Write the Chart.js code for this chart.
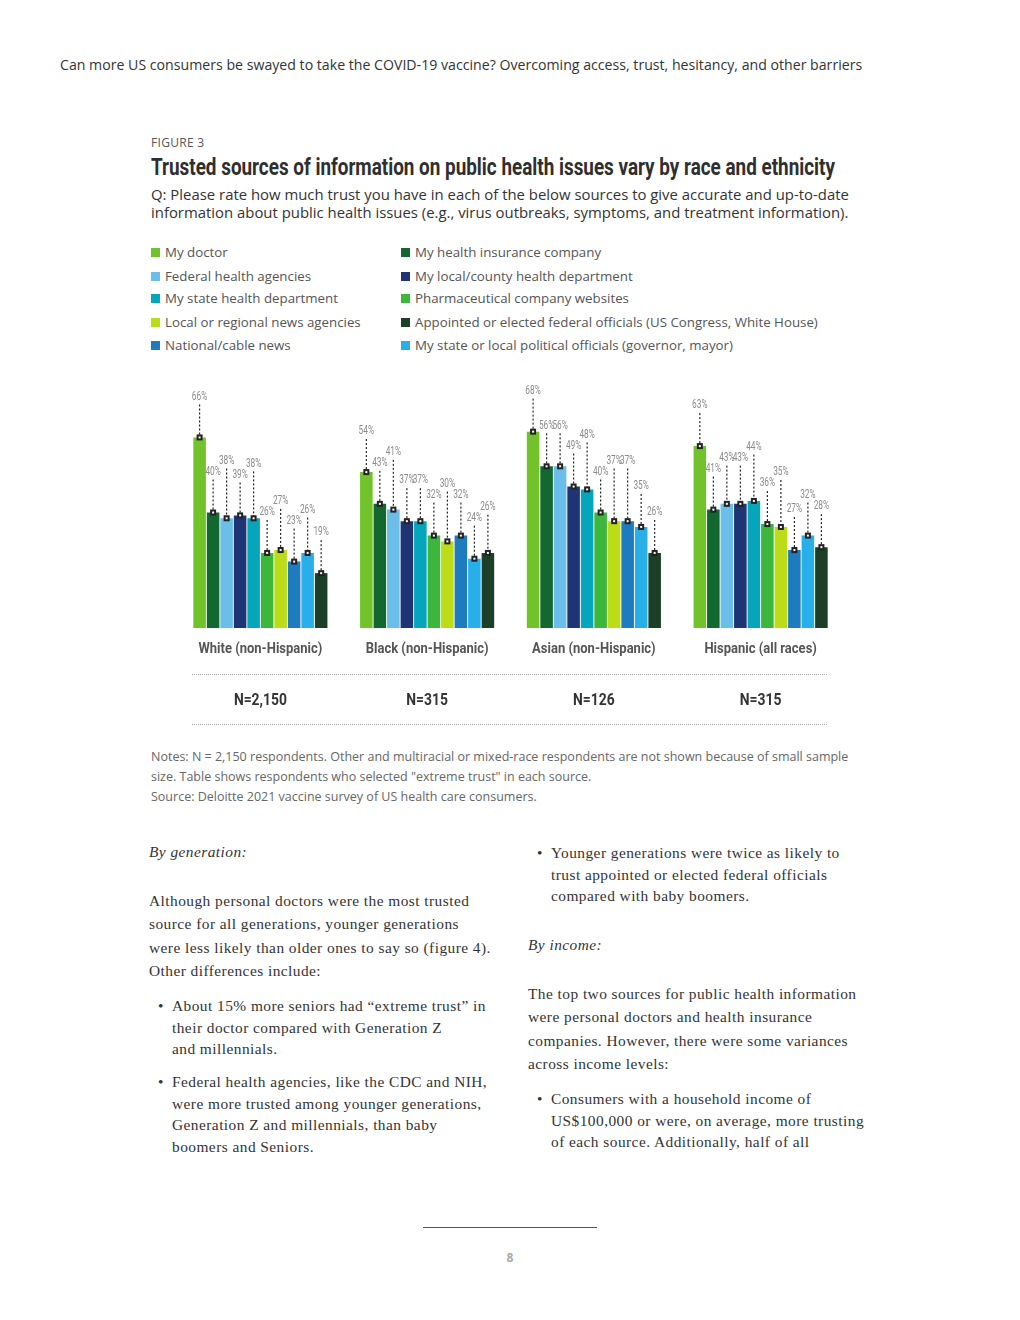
<!DOCTYPE html>
<html>
<head>
<meta charset="utf-8">
<script src="https://cdn.jsdelivr.net/npm/chart.js@4.4.1/dist/chart.umd.min.js"></script>
<style>
  html,body{margin:0;padding:0;background:#fff;}
  body{width:1020px;height:1320px;position:relative;overflow:hidden;font-family:"Open Sans",sans-serif;color:#333;}
  .abs{position:absolute;white-space:nowrap;}
  #hdr{left:60px;top:55px;font-size:14.15px;color:#333;}
  #fig{left:151px;top:134px;font-size:12px;color:#555;letter-spacing:0.3px;}
  #title{left:151px;top:154px;font-family:Roboto,sans-serif;font-weight:bold;font-size:23px;color:#2f2f2f;transform-origin:0 0;}
  #sub{left:151px;top:185px;font-size:14.9px;line-height:18px;color:#333;}
  .lg{position:absolute;font-size:13.3px;color:#555;white-space:nowrap;line-height:16px;}
  .sw{display:inline-block;width:9px;height:9px;margin-right:5px;vertical-align:0px;}
  #notes{left:151px;top:747px;font-size:12.5px;line-height:20px;color:#666;}
  .body{position:absolute;font-family:"Liberation Serif",serif;font-size:15.4px;color:#333;letter-spacing:0.45px;white-space:nowrap;}
  .it{font-style:italic;}
  #rule{position:absolute;left:423px;top:1227px;width:174px;height:1px;background:#555;}
  #pg{position:absolute;left:500px;top:1249px;width:20px;text-align:center;font-size:12px;font-weight:bold;color:#aaa;}
  canvas{position:absolute;left:150px;top:370px;}
</style>
</head>
<body>
<div id="hdr" class="abs">Can more US consumers be swayed to take the COVID-19 vaccine? Overcoming access, trust, hesitancy, and other barriers</div>
<div id="fig" class="abs">FIGURE 3</div>
<div id="title" class="abs" data-fit="684">Trusted sources of information on public health issues vary by race and ethnicity</div>
<div id="sub" class="abs">Q: Please rate how much trust you have in each of the below sources to give accurate and up-to-date<br>information about public health issues (e.g., virus outbreaks, symptoms, and treatment information).</div>
<div id="legend"></div>

<canvas id="c" width="720" height="370"></canvas>

<div id="notes" class="abs">Notes: N = 2,150 respondents. Other and multiracial or mixed-race respondents are not shown because of small sample<br>size. Table shows respondents who selected "extreme trust" in each source.<br>Source: Deloitte 2021 vaccine survey of US health care consumers.</div>

<div class="body it" style="left:149px;top:843px;">By generation:</div>
<div class="body" style="left:149px;top:889px;line-height:23.4px;">Although personal doctors were the most trusted<br>source for all generations, younger generations<br>were less likely than older ones to say so (figure 4).<br>Other differences include:</div>
<div class="body" style="left:158px;top:995px;line-height:21.5px;">•</div>
<div class="body" style="left:172px;top:995px;line-height:21.5px;">About 15% more seniors had “extreme trust” in<br>their doctor compared with Generation Z<br>and millennials.</div>
<div class="body" style="left:158px;top:1071px;line-height:21.5px;">•</div>
<div class="body" style="left:172px;top:1071px;line-height:21.5px;">Federal health agencies, like the CDC and NIH,<br>were more trusted among younger generations,<br>Generation Z and millennials, than baby<br>boomers and Seniors.</div>

<div class="body" style="left:537px;top:842px;line-height:21.5px;">•</div>
<div class="body" style="left:551px;top:842px;line-height:21.5px;">Younger generations were twice as likely to<br>trust appointed or elected federal officials<br>compared with baby boomers.</div>
<div class="body it" style="left:528px;top:936px;">By income:</div>
<div class="body" style="left:528px;top:982px;line-height:23.4px;">The top two sources for public health information<br>were personal doctors and health insurance<br>companies. However, there were some variances<br>across income levels:</div>
<div class="body" style="left:537px;top:1088px;line-height:21.5px;">•</div>
<div class="body" style="left:551px;top:1088px;line-height:21.5px;">Consumers with a household income of<br>US$100,000 or were, on average, more trusting<br>of each source. Additionally, half of all</div>

<div id="rule"></div>
<div id="pg">8</div>

<script>
// ---- Data ----
const groups = ["White (non-Hispanic)", "Black (non-Hispanic)", "Asian (non-Hispanic)", "Hispanic (all races)"];
const sampleSizes = ["N=2,150", "N=315", "N=126", "N=315"];
const sources = [
  "My doctor",
  "My health insurance company",
  "Federal health agencies",
  "My local/county health department",
  "My state health department",
  "Pharmaceutical company websites",
  "Local or regional news agencies",
  "National/cable news",
  "My state or local political officials (governor, mayor)",
  "Appointed or elected federal officials (US Congress, White House)"
];
// values (% "extreme trust") per group, in source order above
const white    = [66, 40, 38, 39, 38, 26, 27, 23, 26, 19];
const black    = [54, 43, 41, 37, 37, 32, 30, 32, 24, 26];
const asian    = [68, 56, 56, 49, 48, 40, 37, 37, 35, 26];
const hispanic = [63, 41, 43, 43, 44, 36, 35, 27, 32, 28];
// legend order (two columns, read row-wise)
const legendOrder = [0, 1, 2, 3, 4, 5, 6, 9, 7, 8];

const colors = ["#72c22c", "#12682f", "#6bbdea", "#1e3475", "#05a5bb", "#3cb73b", "#bcdc17", "#1f7bbf", "#28aee8", "#1b4027"];

const byGroup = [white, black, asian, hispanic];
const datasets = sources.map((s, i) => ({
  label: s,
  data: byGroup.map(g => g[i]),
  backgroundColor: colors[i],
  borderWidth: 0,
  categoryPercentage: 0.81,
  barPercentage: 0.93
}));

// fit condensed HTML text
document.querySelectorAll('[data-fit]').forEach(el => {
  const w = el.getBoundingClientRect().width;
  el.style.transform = 'scaleX(' + (parseFloat(el.dataset.fit) / w) + ')';
});

// ---- HTML legend ----
const lg = document.getElementById('legend');
const rowsY = [244, 268, 290, 314, 337];
legendOrder.forEach((si, k) => {
  const col = k % 2, row = Math.floor(k / 2);
  const d = document.createElement('div');
  d.className = 'lg';
  d.style.left = (col ? 401 : 151) + 'px';
  d.style.top = rowsY[row] + 'px';
  d.innerHTML = '<span class="sw" style="background:' + colors[si] + '"></span>' + sources[si];
  lg.appendChild(d);
});

function condText(ctx, text, x, y, sx) {
  ctx.save();
  ctx.translate(x, y);
  ctx.scale(sx, 1);
  ctx.fillText(text, 0, 0);
  ctx.restore();
}

const labelPlugin = {
  id: 'labels',
  afterDatasetsDraw(chart) {
    const ctx = chart.ctx;
    ctx.save();
    const n = chart.data.datasets.length;
    chart.data.labels.forEach((g, gi) => {
      let prevLy = null, prevVal = null;
      for (let di = 0; di < n; di++) {
        const ds = chart.data.datasets[di];
        const el = chart.getDatasetMeta(di).data[gi];
        const x = el.x, y = el.y, v = ds.data[gi];
        let ly = y - 41;
        if (prevLy !== null) {
          if (v === prevVal) ly = prevLy;
          else if (Math.abs(ly - prevLy) < 11) ly = prevLy - 11;
        }
        prevLy = ly; prevVal = v;
        ctx.strokeStyle = '#222';
        ctx.lineWidth = 1.2;
        ctx.setLineDash([2, 2]);
        ctx.beginPath();
        ctx.moveTo(x, ly + 8);
        ctx.lineTo(x, y);
        ctx.stroke();
        ctx.setLineDash([]);
        ctx.fillStyle = '#222';
        ctx.fillRect(x - 3, y - 3, 6, 6);
        ctx.fillStyle = '#fff';
        ctx.fillRect(x - 1, y - 1, 2, 2);
        ctx.fillStyle = '#8c8c8c';
        ctx.font = '13px Roboto, sans-serif';
        ctx.textAlign = 'center';
        ctx.textBaseline = 'middle';
        condText(ctx, v + '%', x, ly, 0.64);
      }
    });
    ctx.restore();
  },
  afterDraw(chart) {
    const ctx = chart.ctx;
    const xs = chart.scales.x;
    const ca = chart.chartArea;
    ctx.save();
    ctx.textAlign = 'center';
    ctx.textBaseline = 'middle';
    ctx.font = 'bold 14px Roboto, sans-serif';
    const sx1 = 124 / ctx.measureText(groups[0]).width;
    ctx.font = 'bold 16px Roboto, sans-serif';
    const sx2 = 53 / ctx.measureText(sampleSizes[0]).width;
    groups.forEach((g, i) => {
      const x = xs.getPixelForValue(i);
      ctx.fillStyle = '#555';
      ctx.font = 'bold 14px Roboto, sans-serif';
      condText(ctx, g, x, ca.bottom + 21, sx1);
      ctx.fillStyle = '#333';
      ctx.font = 'bold 16px Roboto, sans-serif';
      condText(ctx, sampleSizes[i], x, ca.bottom + 73, sx2);
    });
    ctx.strokeStyle = '#aaa';
    ctx.lineWidth = 1;
    ctx.setLineDash([1, 1]);
    [46, 96].forEach(dy => {
      ctx.beginPath();
      ctx.moveTo(ca.left + 15, ca.bottom + dy + 0.5);
      ctx.lineTo(ca.right - 16, ca.bottom + dy + 0.5);
      ctx.stroke();
    });
    ctx.restore();
  }
};

new Chart(document.getElementById('c'), {
  type: 'bar',
  data: { labels: groups, datasets },
  options: {
    responsive: false,
    animation: false,
    layout: { padding: { left: 27, right: 26, top: 27, bottom: 112 } },
    plugins: { legend: { display: false }, tooltip: { enabled: false } },
    scales: {
      x: { display: false },
      y: { display: false, min: 0, max: 80 }
    }
  },
  plugins: [labelPlugin]
});
</script>
</body>
</html>
